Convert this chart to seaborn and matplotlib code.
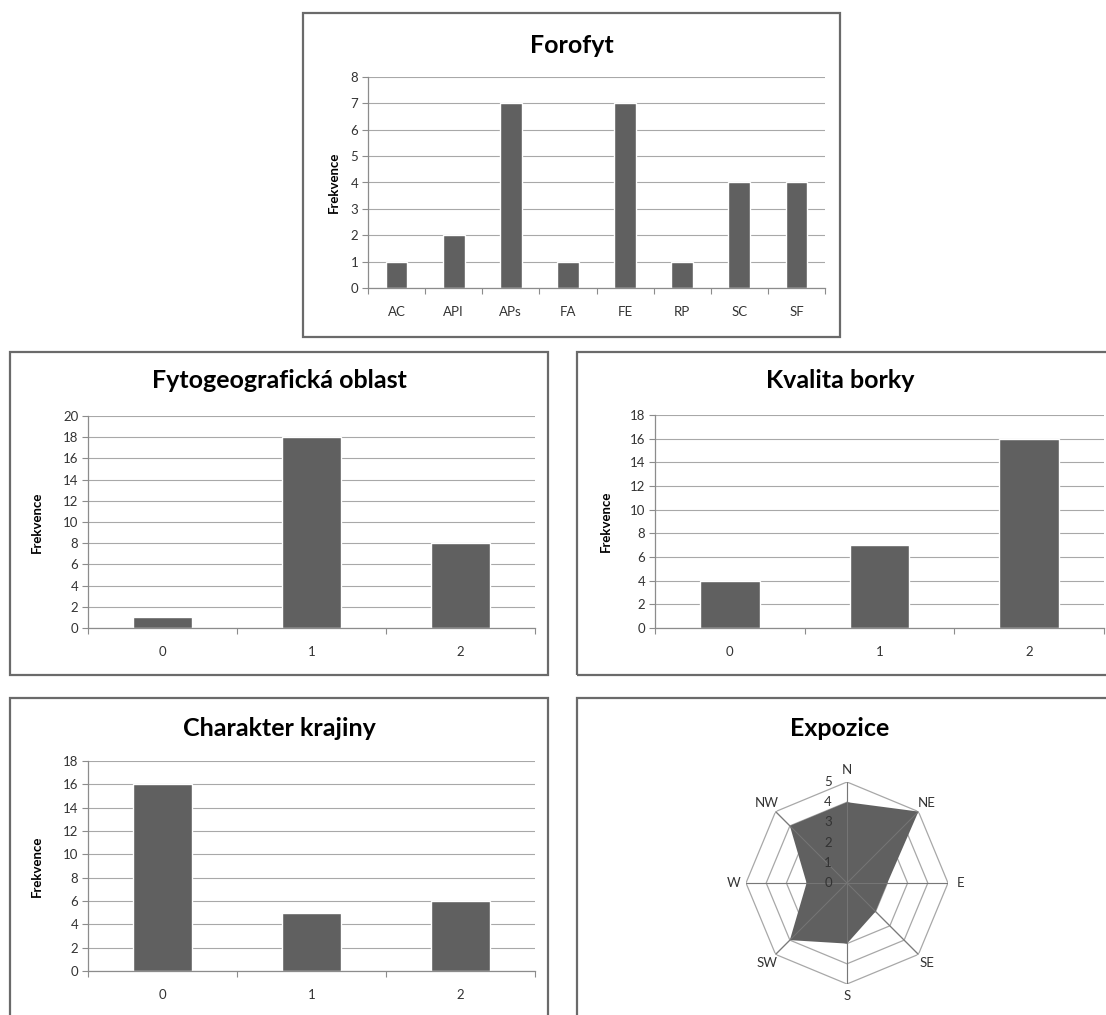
import matplotlib
matplotlib.use("Agg")
import matplotlib.pyplot as plt
import seaborn as sns
import numpy as np
import pandas as pd
from matplotlib.patches import Rectangle
from matplotlib.transforms import ScaledTranslation

# ---------------- data ----------------
forofyt_cats = ["AC", "API", "APs", "FA", "FE", "RP", "SC", "SF"]
forofyt_vals = [1, 2, 7, 1, 7, 1, 4, 4]

fyto_cats = ["0", "1", "2"]
fyto_vals = [1, 18, 8]

kvalita_cats = ["0", "1", "2"]
kvalita_vals = [4, 7, 16]

krajina_cats = ["0", "1", "2"]
krajina_vals = [16, 5, 6]

expo_dirs = ["N", "NE", "E", "SE", "S", "SW", "W", "NW"]
expo_vals = [4, 5, 2, 2, 3, 4, 2, 4]

# ---------------- style ----------------
sns.set_theme(style="white")
plt.rcParams["font.family"] = ["Lato", "DejaVu Sans"]

BAR = "#606060"
AXC = "#8c8c8c"
GRID = "#a8a8a8"
TXT = "#333333"
FS = 9.5

W, H = 1106, 1015
fig = plt.figure(figsize=(W / 100, H / 100), dpi=100)


def add_ax(x0, y0, x1, y1, **kw):
    return fig.add_axes([x0 / W, 1 - y1 / H, (x1 - x0) / W, (y1 - y0) / H], **kw)


def frame(x0, y0, x1, y1):
    fig.patches.append(Rectangle((x0 / W, 1 - y1 / H), (x1 - x0) / W, (y1 - y0) / H,
                                 transform=fig.transFigure, fill=False,
                                 edgecolor="#6a6a6a", lw=1.6))


def title(x, y, s):
    fig.text(x / W, 1 - y / H, s, ha="center", va="center", fontsize=18,
             fontweight="bold", color="black")


def bar_panel(ax, cats, vals, ymax, step, width, ylab_x):
    df = pd.DataFrame({"cat": cats, "val": vals})
    sns.barplot(data=df, x="cat", y="val", order=cats, color=BAR, width=width,
                saturation=1, ax=ax, zorder=2)
    n = len(cats)
    ax.set_xlim(-0.5, n - 0.5)
    ax.set_ylim(0, ymax)
    ax.set_yticks(np.arange(0, ymax + 1, step))
    ax.yaxis.grid(True, color=GRID, lw=0.8)
    ax.set_axisbelow(True)
    for s in ["top", "right"]:
        ax.spines[s].set_visible(False)
    for s in ["left", "bottom"]:
        ax.spines[s].set_color(AXC)
        ax.spines[s].set_linewidth(0.9)
    ax.tick_params(axis="y", left=True, length=4, width=0.8, color=AXC,
                   labelsize=FS, labelcolor=TXT, pad=3)
    ax.set_xticks(np.arange(-0.5, n), minor=True)
    ax.tick_params(axis="x", which="major", bottom=False, length=0,
                   labelsize=FS, labelcolor=TXT, pad=13)
    ax.tick_params(axis="x", which="minor", bottom=True, length=4, width=0.8, color=AXC)
    ax.set_xlabel("")
    ax.set_ylabel("Frekvence", fontsize=FS, fontweight="bold", color="black")
    ax.yaxis.set_label_coords(ylab_x, 0.5)


# ---------------- Forofyt ----------------
frame(303, 13, 840, 337)
title(572, 45, "Forofyt")
ax1 = add_ax(368, 77, 825, 288)
bar_panel(ax1, forofyt_cats, forofyt_vals, 8, 1, 0.38, -0.062)

# ---------------- Fytogeograficka oblast ----------------
frame(10, 352, 548, 675)
title(279, 380, "Fytogeografická oblast")
ax2 = add_ax(88, 416, 535, 628)
bar_panel(ax2, fyto_cats, fyto_vals, 20, 2, 0.4, -0.10)

# ---------------- Kvalita borky ----------------
frame(577, 352, 1112, 675)
title(840, 380, "Kvalita borky")
ax3 = add_ax(655, 415, 1104, 628)
bar_panel(ax3, kvalita_cats, kvalita_vals, 18, 2, 0.4, -0.096)

# ---------------- Charakter krajiny ----------------
frame(10, 698, 548, 1020)
title(279, 728, "Charakter krajiny")
ax4 = add_ax(88, 761, 535, 971)
bar_panel(ax4, krajina_cats, krajina_vals, 18, 2, 0.4, -0.10)

# ---------------- Expozice (radar) ----------------
frame(577, 698, 1112, 1020)
title(840, 728, "Expozice")
R = 101
cx, cy = 847, 883
ax5 = add_ax(cx - R, cy - R, cx + R, cy + R, projection="polar")
ax5.set_theta_zero_location("N")
ax5.set_theta_direction(-1)
ax5.set_ylim(0, 5)
ax5.grid(False)
ax5.spines["polar"].set_visible(False)
ax5.set_xticks([])
ax5.set_yticks([])
ax5.patch.set_alpha(0)

angles = np.deg2rad(np.arange(len(expo_dirs)) * 45.0)
closed = np.r_[angles, angles[0]]
for r in range(1, 6):
    ax5.plot(closed, [r] * len(closed), color=GRID, lw=0.9, zorder=1)
for a in angles:
    ax5.plot([a, a], [0, 5], color=GRID, lw=0.9, zorder=1)
ax5.fill(closed, np.r_[expo_vals, expo_vals[0]], color=BAR, zorder=2, lw=0)
for a in angles:
    ax5.plot([a, a], [0, 5], color="#767676", lw=0.7, zorder=3)

for a, d in zip(angles, expo_dirs):
    ax5.text(a, 5.6, d, ha="center", va="center", fontsize=FS, color=TXT)
off = ScaledTranslation(-19 / 100, 0, fig.dpi_scale_trans)
for r in range(0, 6):
    ax5.text(0, r, str(r), transform=ax5.transData + off, ha="center",
             va="center", fontsize=FS, color=TXT, zorder=4)

fig.savefig("out.png", dpi=100, facecolor="white")
